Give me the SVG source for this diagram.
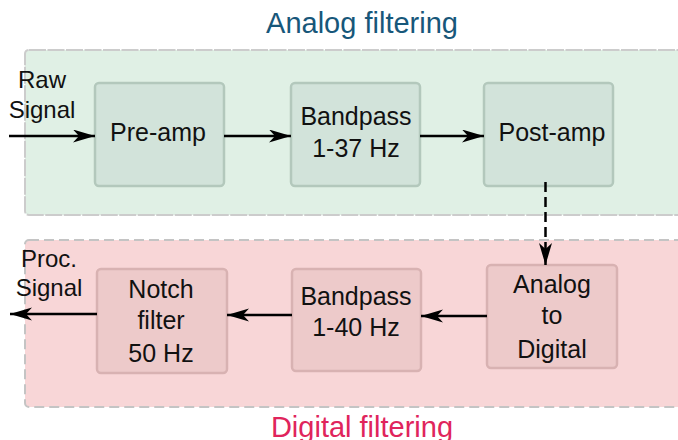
<svg xmlns="http://www.w3.org/2000/svg" width="678" height="440" viewBox="0 0 678 440">
<style>
text{font-family:"Liberation Sans",Arial,sans-serif;fill:#111;text-anchor:middle}
.lbl{font-size:24px}
.nt{font-size:25px}
.title{font-size:29px}
.ga rect{fill:#d2e3da;stroke:#b3c8bc;stroke-width:2.5}
.gd rect{fill:#edcaca;stroke:#d8b2b2;stroke-width:2.5}
.edge{stroke:#000;stroke-width:2.5;fill:none;marker-end:url(#ah)}
</style>
<defs>
<marker id="ah" markerUnits="userSpaceOnUse" markerWidth="24" markerHeight="14" refX="22" refY="6.5" orient="auto">
<path d="M0,0 L22,6.5 L0,13 L6,6.5 z" fill="#000"/>
</marker>
</defs>
<g id="analog-container">
<rect x="25" y="50" width="680" height="165" rx="4" fill="#e0f0e5" stroke="#cccccc" stroke-width="2" stroke-dasharray="17,1.5"/>
<text class="title" x="362" y="33" style="fill:#17577a">Analog filtering</text>
</g>
<g id="digital-container">
<rect x="25" y="240" width="680" height="167" rx="4" fill="#f8d6d7" stroke="#c4c4c4" stroke-width="2" stroke-dasharray="10,5"/>
<text class="title" x="362" y="437" style="fill:#e0245c">Digital filtering</text>
</g>
<g id="raw-label"><text class="lbl" x="42" y="88">Raw</text><text class="lbl" x="42" y="118">Signal</text></g>
<g id="proc-label"><text class="lbl" x="49" y="267">Proc.</text><text class="lbl" x="49" y="296">Signal</text></g>
<g id="preamp" class="ga"><rect x="95" y="83" width="129" height="103" rx="4"/><text class="nt" x="158" y="141">Pre-amp</text></g>
<g id="bandpass37" class="ga"><rect x="291" y="83" width="129" height="103" rx="4"/><text class="nt" x="356" y="125">Bandpass</text><text class="nt" x="356" y="157">1-37 Hz</text></g>
<g id="postamp" class="ga"><rect x="484" y="83" width="129" height="103" rx="4"/><text class="nt" x="552" y="141">Post-amp</text></g>
<g id="adc" class="gd"><rect x="487" y="265" width="130" height="103" rx="4"/><text class="nt" x="552" y="293">Analog</text><text class="nt" x="552" y="324">to</text><text class="nt" x="552" y="358">Digital</text></g>
<g id="bandpass40" class="gd"><rect x="292" y="269" width="129" height="102" rx="4"/><text class="nt" x="356" y="305">Bandpass</text><text class="nt" x="356" y="336">1-40 Hz</text></g>
<g id="notch" class="gd"><rect x="97" y="269" width="130" height="104" rx="4"/><text class="nt" x="161" y="298">Notch</text><text class="nt" x="161" y="329">filter</text><text class="nt" x="161" y="362">50 Hz</text></g>
<g id="connectors">
<line class="edge" x1="9" y1="136" x2="95" y2="136"/>
<line class="edge" x1="224" y1="136" x2="291" y2="136"/>
<line class="edge" x1="420" y1="136" x2="484" y2="136"/>
<line class="edge" x1="545.5" y1="182" x2="545.5" y2="265" stroke-dasharray="10,5"/>
<line class="edge" x1="487" y1="316" x2="421" y2="316"/>
<line class="edge" x1="292" y1="315" x2="227" y2="315"/>
<line class="edge" x1="97" y1="314" x2="10" y2="314"/>
</g>
</svg>
